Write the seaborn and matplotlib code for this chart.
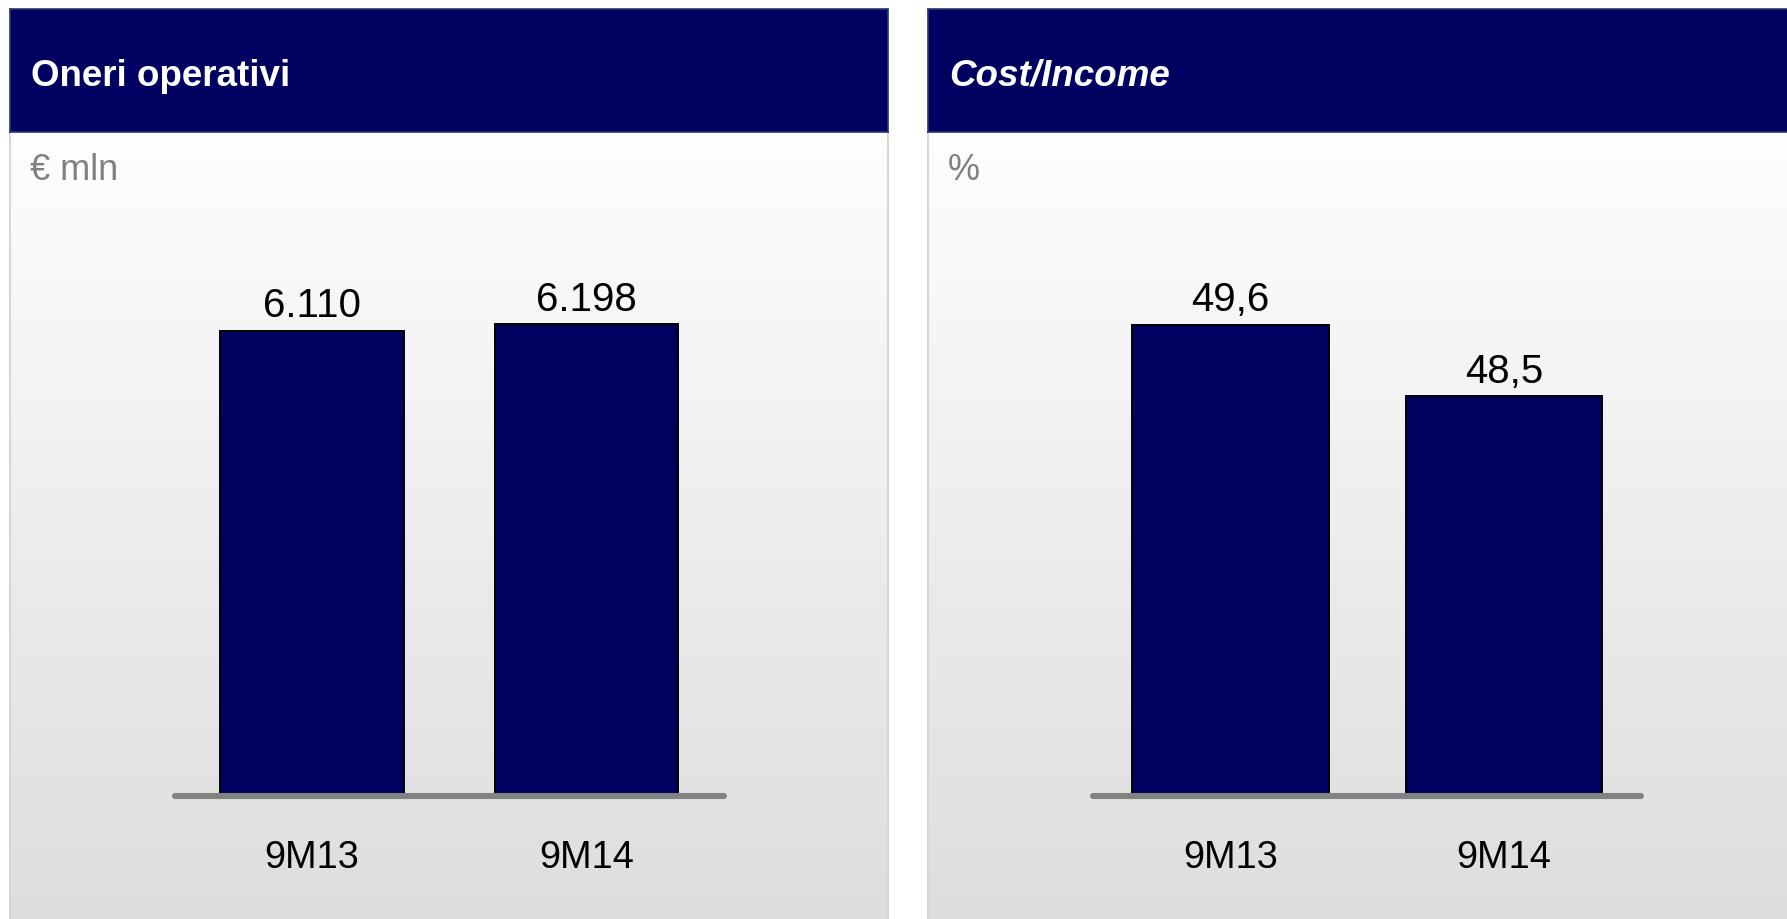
import numpy as np
import matplotlib
matplotlib.use("Agg")
import matplotlib.pyplot as plt
import seaborn as sns

# ---- data -------------------------------------------------------------
periods = ["9M13", "9M14"]
oneri_values = [6110, 6198]          # € mln
cost_income_values = [49.6, 48.5]    # %

panel_titles = ["Oneri operativi", "Cost/Income"]
panel_units = ["€ mln", "%"]

# ---- style ------------------------------------------------------------
sns.set_theme(style="white")
plt.rcParams["font.family"] = ["Liberation Sans", "DejaVu Sans"]

NAVY = "#000060"
GREY_LINE = "#828282"
W, H = 1787, 919

fig = plt.figure(figsize=(W / 100, H / 100), dpi=100, facecolor="white")


def rect(x0, y0, x1, y1):
    """Pixel box (top-left origin) -> figure fraction rect."""
    return [x0 / W, 1 - y1 / H, (x1 - x0) / W, (y1 - y0) / H]


def fmt_thousands(v):
    return f"{v:,.0f}".replace(",", ".")


def fmt_decimal(v):
    return f"{v:.1f}".replace(".", ",")


panels = [
    dict(x0=10, x1=888, title_style="normal", values=oneri_values,
         fmt=fmt_thousands, bar_center0=311.9, spacing=274.6, width=0.67,
         ylim=(0, 6860)),
    dict(x0=928, x1=1800, title_style="italic", values=cost_income_values,
         fmt=fmt_decimal, bar_center0=1230.3, spacing=273.7, width=0.718,
         ylim=(42.39, 50.38)),
]

HEADER_TOP, HEADER_BOTTOM = 9, 131.7
BASELINE = 794
AX_HEIGHT = 520

gradient = np.linspace(254, 221, 256).reshape(-1, 1) / 255.0

for p, title, unit in zip(panels, panel_titles, panel_units):
    # body with vertical grey gradient
    bg = fig.add_axes(rect(p["x0"], HEADER_BOTTOM, p["x1"], H + 2))
    bg.imshow(np.dstack([gradient] * 3), aspect="auto",
              extent=(0, 1, 0, 1), origin="upper")
    bg.set_xticks([])
    bg.set_yticks([])
    for side, sp in bg.spines.items():
        sp.set_visible(side in ("left", "right"))
        sp.set_color("#d6d6d6")
        sp.set_linewidth(1.5)
    bg.text(19.5 / (p["x1"] - p["x0"]), 0.9725, unit,
            transform=bg.transAxes, ha="left", va="top",
            fontsize=26, color="#808080")

    # navy header band
    hd = fig.add_axes(rect(p["x0"], HEADER_TOP, p["x1"], HEADER_BOTTOM))
    hd.set_facecolor(NAVY)
    hd.set_xticks([])
    hd.set_yticks([])
    for sp in hd.spines.values():
        sp.set_color("#1f3a75")
        sp.set_linewidth(1.2)
    hd.text(21.0 / (p["x1"] - p["x0"]), 0.45, title, transform=hd.transAxes,
            ha="left", va="center", fontsize=26.5, fontweight="bold",
            fontstyle=p["title_style"], color="white")

    # bar chart
    ax_x0 = p["bar_center0"] - 0.5 * p["spacing"]
    ax_x1 = p["bar_center0"] + 1.5 * p["spacing"]
    ax = fig.add_axes(rect(ax_x0, BASELINE - AX_HEIGHT, ax_x1, BASELINE))
    ax.set_facecolor("none")
    sns.barplot(x=periods, y=p["values"], color=NAVY, saturation=1,
                edgecolor="black", linewidth=1.4, width=p["width"], ax=ax)
    ax.set_xlim(-0.5, 1.5)
    ax.set_ylim(*p["ylim"])
    ax.set_yticks([])
    for sp in ax.spines.values():
        sp.set_visible(False)
    ax.tick_params(axis="x", length=0, pad=33, labelsize=27.3,
                   labelcolor="black")
    # grey base line with rounded ends
    ax.plot([0, 1], [-0.004, -0.004], transform=ax.transAxes,
            color=GREY_LINE, lw=4.4, solid_capstyle="round", clip_on=False,
            zorder=5)
    for i, v in enumerate(p["values"]):
        ax.annotate(p["fmt"](v), (i, v), xytext=(0, 9.7),
                    textcoords="offset points", ha="center", va="baseline",
                    fontsize=29, color="black")

fig.savefig("out.png", dpi=100, facecolor="white")
